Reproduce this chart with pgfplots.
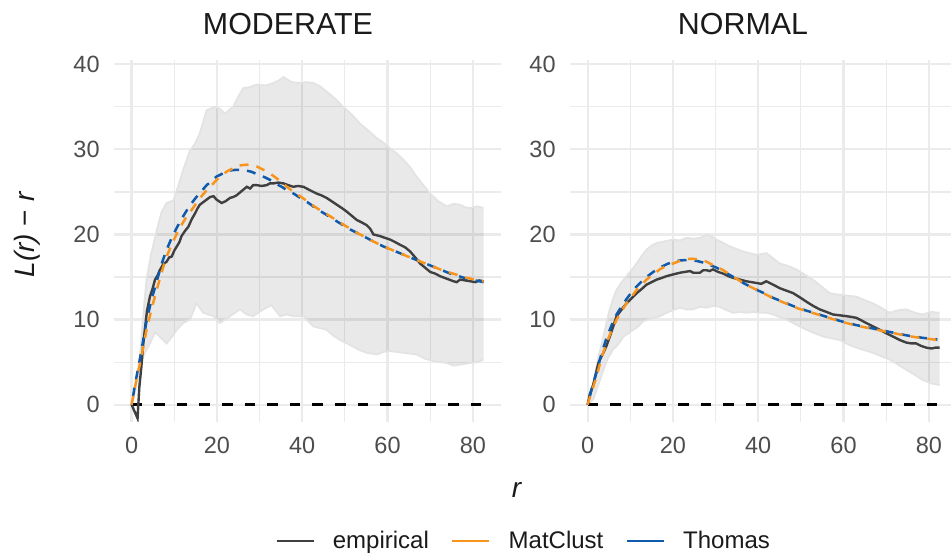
\documentclass[border=0pt]{standalone}
\usepackage{fontspec}
\setmainfont{Liberation Sans}
\usepackage{pgfplots}
\pgfplotsset{compat=1.18}
\usepgfplotslibrary{fillbetween}
\definecolor{empc}{HTML}{404040}
\definecolor{matc}{HTML}{F7941D}
\definecolor{thoc}{HTML}{0F5AAA}
\definecolor{gridc}{HTML}{EBEBEB}
\definecolor{tickc}{HTML}{4D4D4D}
\definecolor{txtc}{HTML}{1A1A1A}
\pgfplotsset{
  panel/.style={
    scale only axis, width=193.5pt, height=180.85pt,
    xmin=-4.125, xmax=86.6, ymin=-2, ymax=40.5,
    xtick={0,20,...,80}, ytick={0,10,...,40},
    minor xtick={10,30,50,70}, minor ytick={5,15,25,35},
    grid=both,
    major grid style={gridc, line width=1.1pt},
    minor grid style={gridc, line width=0.6pt},
    axis line style={draw=none},
    major tick length=0pt, minor tick length=0pt,
    tick style={draw=none},
    /pgf/number format/assume math mode=true,
    tick label style={font=\fontsize{11.75}{13}\selectfont, text=tickc},
    yticklabel style={anchor=east, inner sep=0pt, xshift=-7pt},
    xticklabel style={anchor=north, inner sep=0pt, yshift=-7.6pt},
    anchor=south west,
  },
  bandedge/.style={draw=black!11, line width=0.9pt, forget plot},
  bandfill/.style={fill=black, fill opacity=0.085, draw=none, forget plot},
  zeroline/.style={black, line width=1.2pt, dash pattern=on 5.3pt off 6pt, forget plot},
  emp/.style={empc, line width=1.2pt, forget plot},
  mat/.style={matc, line width=1.25pt, dash pattern=on 4.5pt off 4pt, forget plot},
  tho/.style={thoc, line width=1.25pt, dash pattern=on 4.5pt off 4pt, dash phase=4.25pt, forget plot},
}
\begin{document}
\begin{tikzpicture}
% ---------------- MODERATE ----------------
\begin{axis}[panel, at={(57pt,66.15pt)},
  legend columns=3,
  legend style={at={(1.0607,-0.3298)}, anchor=center, draw=none, fill=none,
    font=\fontsize{12}{14}\selectfont, text=txtc, inner sep=0pt,
    /tikz/every odd column/.append style={column sep=7pt},
    /tikz/every even column/.append style={column sep=9pt}},
  legend image code/.code={\draw[#1] (0pt,0pt) -- (18.5pt,0pt);},
]
\addplot[bandedge, name path=LU] coordinates {
(0,0) (1,2) (2,6) (3,12) (3.5,14.7) (4.5,17.5) (5.9,20.5) (7,22.6) (8.2,23.7) (9.8,24) (11,25.8) (12.1,27.6) (13.7,29.9) (14.8,30.6) (16,31.9) (17.6,34.6) (19.5,35) (20.6,34.8) (21.9,34.2) (23.8,35) (25,36.2) (26.2,37.2) (27.6,37.3) (29.3,37.6) (31.5,37.5) (33.2,37.8) (34.5,38.1) (35.6,38.5) (37.5,37.9) (39.5,37.8) (41,37.9) (42.6,37.8) (44.2,37.4) (45.7,36.8) (47.6,36) (49.6,35) (51.6,34.1) (53.6,33) (55.5,32.2) (57.5,31.3) (59,30.8) (60.6,30.1) (62.2,29.5) (63.7,28.8) (65.3,27.9) (66.8,26.8) (68.4,25.8) (70,24.8) (71.9,23.9) (73.9,23.3) (75.5,23.6) (77,23.5) (78.2,23.2) (79.4,23.1) (81,23.3) (82.5,23.1)};
\addplot[bandedge, name path=LL] coordinates {
(0,0) (1,2) (2,4.5) (3,6) (4.3,7.2) (5.5,8.5) (6.6,8) (8.2,7.2) (9.5,8) (10.6,8.8) (12.1,9.6) (13.7,10) (15.2,11.9) (16.8,10.8) (19.2,10.4) (20.7,9.6) (23.1,10.4) (25.4,11.2) (27,10.6) (28.5,10.4) (30.9,11.2) (32.8,11.7) (34.8,10.4) (36.3,10.6) (37.9,10.4) (40.3,10.4) (42.6,9.2) (45.7,8.8) (47.3,8.1) (48.9,7.6) (50.5,7.2) (52,6.8) (53.5,6.4) (55.1,6.1) (57.5,5.9) (59,6.2) (60.6,6.3) (63.7,6.1) (66.8,5.9) (68.8,5.4) (70.8,5.1) (73.9,4.9) (75.5,4.6) (77,4.7) (79.4,4.9) (81,5) (82.5,5.3)};
\addplot[bandfill] fill between[of=LU and LL];
\addplot[zeroline] coordinates {(0,0) (82.5,0)};
\addplot[emp] coordinates {
(0,0) (1.4,-1.6) (1.8,2) (2.3,4.5) (2.7,7) (3.1,8.8) (3.6,11) (4.3,12.7) (4.9,13.6) (5.5,14.7) (6.1,15.2) (6.6,15.8) (7.4,16.5) (8.2,16.8) (8.8,17.3) (9.4,17.4) (10,18.1) (10.6,18.6) (11.2,19.1) (11.7,19.8) (12.5,20.4) (13.3,20.9) (14.1,21.8) (14.9,22.5) (15.5,23.1) (16,23.5) (16.8,23.8) (17.6,24.1) (18.4,24.4) (19.2,24.5) (19.9,24.1) (20.5,23.9) (21.1,23.7) (22,23.9) (23.1,24.3) (23.8,24.4) (24.6,24.6) (25.8,25.1) (27,25.6) (27.8,25.4) (28.5,25.8) (29.3,25.8) (30.5,25.7) (31.7,25.8) (32.4,26) (33.2,26) (34.4,26.1) (35.6,26) (36.7,25.8) (37.9,25.6) (39,25.7) (40.3,25.6) (41.8,25.2) (43.4,24.8) (44.5,24.6) (45.7,24.3) (46.9,23.9) (48.1,23.5) (49.3,23.1) (50.4,22.7) (51.6,22.2) (52.8,21.7) (54,21.4) (55.1,21.1) (55.9,20.7) (56.7,20) (57.5,19.9) (58.3,19.8) (59.4,19.6) (60.6,19.4) (61.8,19.1) (62.9,18.8) (64.1,18.5) (65.3,18) (66.5,17.3) (67.6,16.6) (68.8,16.1) (70,15.6) (71.2,15.4) (72.3,15.1) (73.9,14.8) (75.5,14.5) (76.2,14.4) (77,14.7) (78.2,14.6) (79.4,14.5) (80.6,14.4) (81.5,14.6) (82.5,14.5)};
\addplot[tho] coordinates {
(0,0) (1,2.9) (2,5.5) (3.5,9.8) (4.7,12.4) (5.9,14.5) (7,16.5) (8.2,18.2) (9.4,19.6) (10.6,20.8) (11.8,21.9) (12.9,22.8) (14.1,23.7) (15.2,24.4) (16.4,25.1) (17.6,25.8) (18.8,26.3) (19.9,26.8) (21.1,27.1) (22.3,27.4) (23.5,27.55) (24.6,27.6) (25.8,27.6) (27,27.5) (28.2,27.35) (29.3,27.1) (30.5,26.9) (31.7,26.6) (32.9,26.3) (34,25.9) (35.2,25.6) (36.4,25.2) (38,24.8) (39.5,24.3) (41.5,23.7) (43.4,23.0) (45.4,22.4) (47.3,21.8) (49.2,21.2) (51.2,20.6) (53.2,20.1) (55.1,19.6) (57,19.1) (59,18.6) (61,18.2) (62.9,17.8) (64.8,17.4) (66.8,17) (68.8,16.6) (70.8,16.2) (72.8,15.8) (74.7,15.4) (76.7,15.1) (78.6,14.8) (80.6,14.6) (82.5,14.4)};
\addplot[mat] coordinates {
(0,0) (1,2.6) (2,4.9) (3.5,8.8) (4.7,11.3) (5.9,13.5) (7,15.5) (8.2,17.4) (9.4,18.8) (10.6,20.1) (11.8,21.2) (12.9,22.1) (14.1,22.9) (15.2,23.7) (16.4,24.5) (17.6,25.2) (18.8,25.8) (19.9,26.4) (21.1,26.9) (22.3,27.4) (23.5,27.7) (24.6,28) (25.8,28.15) (27,28.2) (28.2,28.15) (29.3,28) (30.5,27.7) (31.7,27.4) (32.9,27) (34,26.6) (35.2,26.1) (36.4,25.6) (38,25) (39.5,24.5) (41.5,23.8) (43.4,23.1) (45.4,22.5) (47.3,21.9) (49.2,21.3) (51.2,20.7) (53.2,20.1) (55.1,19.6) (57,19.1) (59,18.6) (61,18.2) (62.9,17.8) (64.8,17.4) (66.8,17) (68.8,16.6) (70.8,16.2) (72.8,15.8) (74.7,15.5) (76.7,15.2) (78.6,14.9) (80.6,14.7) (82.5,14.5)};
\addlegendimage{empc, line width=1.4pt}
\addlegendentry{empirical}
\addlegendimage{matc, line width=1.4pt}
\addlegendentry{MatClust}
\addlegendimage{thoc, line width=1.4pt}
\addlegendentry{Thomas}
\end{axis}
% ---------------- NORMAL ----------------
\begin{axis}[panel, at={(285pt,66.15pt)}]
\addplot[bandedge, name path=RU] coordinates {
(0,0) (0.7,1.5) (1.3,2.5) (2.5,5.5) (3.7,8) (4.5,9.8) (5.2,11.2) (6,12.5) (6.8,13.5) (8,14.4) (9.1,15.1) (10.3,15.8) (11.5,16.6) (12.7,17.5) (13.8,18.2) (15,18.7) (16.2,19) (18.1,19.2) (20.1,19.4) (21.6,19.3) (23.2,19.6) (24.8,19.5) (26.3,19.6) (27.9,20) (29,19.8) (30.2,19.4) (31.8,19) (33.3,18.6) (34.9,18.3) (36.5,18) (38,17.8) (39.6,17.6) (41.9,17.8) (43.5,17.2) (45,16.6) (47,16.3) (48.9,15.9) (50.8,15.3) (52.8,14.7) (54.8,13.9) (56.8,13.1) (59.1,12.9) (61,12.8) (63,12.7) (64.9,12.3) (66.9,11.9) (68.8,11.4) (70.8,10.8) (72.8,11.1) (74.7,11.2) (76.7,10.8) (78.6,10.6) (80.6,10.9) (82.5,10.8)};
\addplot[bandedge, name path=RL] coordinates {
(0,0) (1.3,0.6) (2.5,2.3) (3.7,4.1) (4.8,5.5) (6,6.5) (7.2,7.1) (8.4,8) (9.6,8.4) (10.7,8.8) (11.9,9.2) (13,9.8) (14.2,10.0) (15.4,10.2) (17,10.4) (18.5,10.8) (20,11.1) (21.6,11.4) (23.2,11.2) (24.7,11.2) (26.3,11.5) (27.9,11.4) (29.4,11.6) (31,11.5) (32.6,11.1) (34.1,10.8) (35.7,10.9) (37.2,10.8) (38.8,10.9) (40.4,10.8) (42,10.8) (43.5,10.6) (45.5,10.2) (47.4,9.8) (49.3,9.3) (51.3,8.8) (53.2,8.4) (55.2,8) (57.2,7.8) (59.1,7.6) (61,7.1) (63,6.7) (64.9,6.4) (66.9,6.1) (68.8,5.7) (70.8,5.3) (72.8,4.7) (74.7,4.1) (76.7,3.5) (78.6,2.9) (80.6,2.5) (82.5,2.3)};
\addplot[bandfill] fill between[of=RU and RL];
\addplot[zeroline] coordinates {(0,0) (82.5,0)};
\addplot[emp] coordinates {
(0,0) (0.5,1.2) (1.3,2.3) (2,3.8) (2.6,5) (3.7,6.1) (4.5,7) (5.2,8) (6,9.2) (6.8,10.4) (8,11.2) (9.1,11.9) (10.3,12.5) (11.5,13.1) (12.7,13.6) (13.8,14.1) (15,14.4) (16.2,14.7) (17.4,14.9) (18.5,15.1) (20,15.3) (21.6,15.5) (22.8,15.6) (24,15.7) (24.8,15.5) (26.3,15.5) (27.1,15.8) (27.9,15.8) (28.6,15.7) (29.4,15.9) (30.6,15.6) (31.8,15.4) (33,15.1) (34.1,14.9) (35.7,14.7) (37.2,14.5) (38.4,14.4) (39.6,14.3) (40.7,14.2) (41.9,14.5) (43.5,14.1) (45,13.7) (46.6,13.4) (48.2,13.1) (49.8,12.6) (51.3,12.1) (52.9,11.6) (54.4,11.2) (56,10.9) (57.5,10.6) (59.1,10.5) (60.7,10.4) (62,10.3) (63,10.2) (64.2,9.9) (65.3,9.6) (66.9,9.2) (68.5,8.8) (70,8.4) (71.6,8) (73.2,7.6) (74.7,7.3) (75.9,7.2) (77,7.2) (78.2,6.9) (79.4,6.7) (80.6,6.6) (81.5,6.7) (82.5,6.7)};
\addplot[tho] coordinates {
(0,0) (1,1.9) (2.1,3.8) (3.2,5.9) (4.4,7.8) (5.6,9.3) (6.8,10.6) (8,11.6) (9.1,12.4) (10.3,13.2) (11.5,13.9) (12.7,14.5) (13.8,15) (15.4,15.6) (16.9,16.1) (18.5,16.5) (20.1,16.8) (21.7,16.95) (23.2,17) (24.4,16.95) (25.5,16.9) (26.7,16.75) (27.9,16.6) (29,16.35) (30.2,16.1) (31.8,15.7) (33.3,15.25) (34.9,14.8) (36.5,14.3) (38,13.9) (39.6,13.5) (41.6,13.05) (43.5,12.55) (45.5,12.15) (47.4,11.75) (49.4,11.35) (51.3,11.05) (53.3,10.75) (55.2,10.45) (57.2,10.15) (59.1,9.85) (61,9.6) (63,9.35) (64.9,9.15) (66.9,8.95) (68.8,8.75) (70.8,8.55) (72.8,8.35) (74.7,8.15) (76.7,8) (78.6,7.85) (80.6,7.75) (82,7.65)};
\addplot[mat] coordinates {
(0,0) (1,1.6) (2.1,3.3) (3.2,5.4) (4.4,7.2) (5.6,8.7) (6.8,10) (8,11) (9.1,11.9) (10.3,12.7) (11.5,13.5) (12.7,14.1) (13.8,14.7) (15.4,15.3) (16.9,15.9) (18.5,16.3) (20.1,16.6) (21.7,16.9) (23.2,17.1) (24.4,17.15) (25.5,17.1) (26.7,17) (27.9,16.8) (29,16.5) (30.2,16.2) (31.8,15.8) (33.3,15.3) (34.9,14.8) (36.5,14.3) (38,13.9) (39.6,13.5) (41.6,13) (43.5,12.5) (45.5,12.1) (47.4,11.7) (49.4,11.3) (51.3,11) (53.3,10.7) (55.2,10.4) (57.2,10.1) (59.1,9.8) (61,9.55) (63,9.3) (64.9,9.1) (66.9,8.9) (68.8,8.7) (70.8,8.5) (72.8,8.3) (74.7,8.1) (76.7,7.95) (78.6,7.8) (80.6,7.7) (82,7.6)};
\end{axis}
% titles and labels
\node[font=\fontsize{15.2}{18}\selectfont, text=txtc] at (144pt,265pt) {MODERATE};
\node[font=\fontsize{15.2}{18}\selectfont, text=txtc] at (371.5pt,265pt) {NORMAL};
\node[rotate=90, font=\fontsize{14}{16}\selectfont, text=txtc] at (13.75pt,159.75pt) {\textit{L(r)} − \textit{r}};
\node[anchor=base, font=\fontsize{14}{16}\selectfont, text=txtc] at (258.5pt,28.5pt) {\textit{r}};
\pgfresetboundingbox
\path[use as bounding box] (0pt,0pt) rectangle (475.5pt,277pt);
\end{tikzpicture}
\end{document}
